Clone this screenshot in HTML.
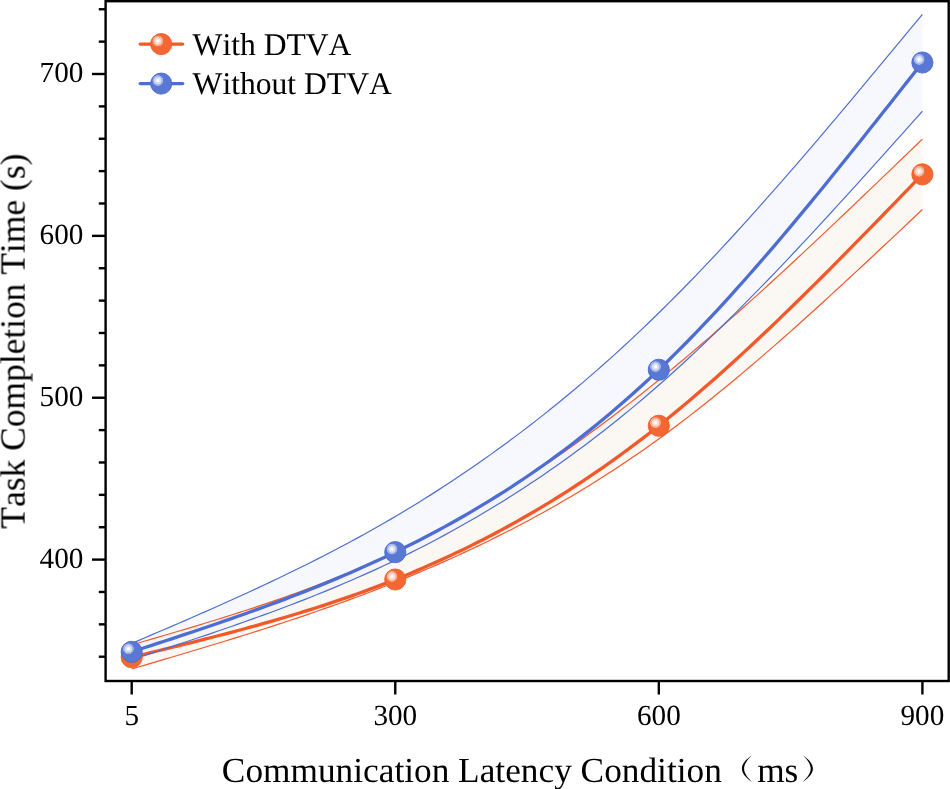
<!DOCTYPE html>
<html><head><meta charset="utf-8"><style>
html,body{margin:0;padding:0;background:#ffffff;}
svg{display:block;font-kerning:none;text-rendering:geometricPrecision;}
text{will-change:transform;}
</style></head><body>
<svg width="950" height="789" viewBox="0 0 950 789">
<defs><radialGradient id="hg" cx="0.5" cy="0.5" r="0.5"><stop offset="0" stop-color="#fff" stop-opacity="1"/><stop offset="0.2" stop-color="#fff" stop-opacity="1"/><stop offset="0.3" stop-color="#fff" stop-opacity="0.82"/><stop offset="0.6" stop-color="#fff" stop-opacity="0.72"/><stop offset="0.66" stop-color="#fff" stop-opacity="0.5"/><stop offset="0.9" stop-color="#fff" stop-opacity="0.42"/><stop offset="1" stop-color="#fff" stop-opacity="0"/></radialGradient></defs>
<path d="M131.70,644.90 L138.34,642.97 L144.99,641.04 L151.63,639.10 L158.28,637.16 L164.92,635.21 L171.57,633.25 L178.21,631.29 L184.86,629.31 L191.50,627.32 L198.15,625.32 L204.79,623.30 L211.43,621.26 L218.08,619.21 L224.72,617.13 L231.37,615.03 L238.01,612.91 L244.66,610.76 L251.30,608.59 L257.95,606.38 L264.59,604.15 L271.24,601.89 L277.88,599.59 L284.52,597.26 L291.17,594.89 L297.81,592.48 L304.46,590.04 L311.10,587.55 L317.75,585.02 L324.39,582.45 L331.04,579.83 L337.68,577.16 L344.33,574.45 L350.97,571.68 L357.61,568.86 L364.26,565.99 L370.90,563.06 L377.55,560.08 L384.19,557.04 L390.84,553.93 L397.48,550.77 L404.13,547.54 L410.77,544.25 L417.42,540.90 L424.06,537.49 L430.70,534.02 L437.35,530.48 L443.99,526.89 L450.64,523.23 L457.28,519.52 L463.93,515.74 L470.57,511.91 L477.22,508.01 L483.86,504.06 L490.51,500.05 L497.15,495.98 L503.79,491.86 L510.44,487.67 L517.08,483.43 L523.73,479.13 L530.37,474.78 L537.02,470.37 L543.66,465.90 L550.31,461.38 L556.95,456.80 L563.59,452.17 L570.24,447.48 L576.88,442.74 L583.53,437.95 L590.17,433.10 L596.82,428.20 L603.46,423.24 L610.11,418.23 L616.75,413.17 L623.40,408.06 L630.04,402.90 L636.68,397.68 L643.33,392.41 L649.97,387.10 L656.62,381.73 L663.26,376.31 L669.91,370.84 L676.55,365.33 L683.20,359.77 L689.84,354.16 L696.49,348.51 L703.13,342.81 L709.77,337.08 L716.42,331.30 L723.06,325.48 L729.71,319.63 L736.35,313.74 L743.00,307.81 L749.64,301.85 L756.29,295.86 L762.93,289.84 L769.58,283.78 L776.22,277.70 L782.86,271.59 L789.51,265.45 L796.15,259.29 L802.80,253.10 L809.44,246.89 L816.09,240.66 L822.73,234.41 L829.38,228.14 L836.02,221.85 L842.67,215.54 L849.31,209.22 L855.95,202.89 L862.60,196.55 L869.24,190.19 L875.89,183.82 L882.53,177.44 L889.18,171.06 L895.82,164.67 L902.47,158.27 L909.11,151.87 L915.76,145.47 L922.40,139.07 L922.40,209.53 L915.76,215.80 L909.11,222.06 L902.47,228.32 L895.82,234.57 L889.18,240.82 L882.53,247.05 L875.89,253.28 L869.24,259.49 L862.60,265.69 L855.95,271.87 L849.31,278.03 L842.67,284.18 L836.02,290.30 L829.38,296.39 L822.73,302.47 L816.09,308.51 L809.44,314.52 L802.80,320.50 L796.15,326.45 L789.51,332.37 L782.86,338.25 L776.22,344.08 L769.58,349.88 L762.93,355.64 L756.29,361.35 L749.64,367.02 L743.00,372.63 L736.35,378.20 L729.71,383.72 L723.06,389.18 L716.42,394.59 L709.77,399.94 L703.13,405.23 L696.49,410.46 L689.84,415.63 L683.20,420.73 L676.55,425.77 L669.91,430.74 L663.26,435.64 L656.62,440.46 L649.97,445.22 L643.33,449.90 L636.68,454.51 L630.04,459.06 L623.40,463.53 L616.75,467.93 L610.11,472.27 L603.46,476.54 L596.82,480.75 L590.17,484.89 L583.53,488.97 L576.88,492.99 L570.24,496.94 L563.59,500.83 L556.95,504.67 L550.31,508.45 L543.66,512.16 L537.02,515.83 L530.37,519.43 L523.73,522.98 L517.08,526.48 L510.44,529.92 L503.79,533.32 L497.15,536.66 L490.51,539.95 L483.86,543.19 L477.22,546.38 L470.57,549.53 L463.93,552.63 L457.28,555.69 L450.64,558.70 L443.99,561.66 L437.35,564.59 L430.70,567.47 L424.06,570.31 L417.42,573.11 L410.77,575.88 L404.13,578.60 L397.48,581.29 L390.84,583.95 L384.19,586.56 L377.55,589.15 L370.90,591.70 L364.26,594.22 L357.61,596.70 L350.97,599.16 L344.33,601.58 L337.68,603.98 L331.04,606.35 L324.39,608.69 L317.75,611.01 L311.10,613.30 L304.46,615.57 L297.81,617.82 L291.17,620.04 L284.52,622.24 L277.88,624.42 L271.24,626.58 L264.59,628.72 L257.95,630.84 L251.30,632.95 L244.66,635.04 L238.01,637.11 L231.37,639.17 L224.72,641.22 L218.08,643.25 L211.43,645.27 L204.79,647.28 L198.15,649.29 L191.50,651.28 L184.86,653.26 L178.21,655.24 L171.57,657.21 L164.92,659.18 L158.28,661.14 L151.63,663.10 L144.99,665.05 L138.34,667.00 L131.70,668.96 Z" fill="#fbf7f2" fill-opacity="1"/>
<path d="M131.70,643.45 L138.34,640.60 L144.99,637.76 L151.63,634.91 L158.28,632.06 L164.92,629.20 L171.57,626.33 L178.21,623.46 L184.86,620.58 L191.50,617.69 L198.15,614.78 L204.79,611.86 L211.43,608.93 L218.08,605.98 L224.72,603.01 L231.37,600.02 L238.01,597.02 L244.66,593.99 L251.30,590.93 L257.95,587.86 L264.59,584.76 L271.24,581.63 L277.88,578.47 L284.52,575.28 L291.17,572.06 L297.81,568.81 L304.46,565.53 L311.10,562.20 L317.75,558.85 L324.39,555.45 L331.04,552.02 L337.68,548.54 L344.33,545.02 L350.97,541.46 L357.61,537.86 L364.26,534.20 L370.90,530.50 L377.55,526.76 L384.19,522.96 L390.84,519.11 L397.48,515.20 L404.13,511.25 L410.77,507.23 L417.42,503.17 L424.06,499.05 L430.70,494.87 L437.35,490.63 L443.99,486.34 L450.64,481.98 L457.28,477.57 L463.93,473.10 L470.57,468.57 L477.22,463.98 L483.86,459.33 L490.51,454.62 L497.15,449.84 L503.79,445.01 L510.44,440.10 L517.08,435.14 L523.73,430.11 L530.37,425.01 L537.02,419.85 L543.66,414.63 L550.31,409.33 L556.95,403.97 L563.59,398.54 L570.24,393.04 L576.88,387.47 L583.53,381.84 L590.17,376.13 L596.82,370.35 L603.46,364.50 L610.11,358.58 L616.75,352.58 L623.40,346.51 L630.04,340.37 L636.68,334.15 L643.33,327.86 L649.97,321.49 L656.62,315.05 L663.26,308.53 L669.91,301.93 L676.55,295.26 L683.20,288.52 L689.84,281.71 L696.49,274.83 L703.13,267.88 L709.77,260.87 L716.42,253.80 L723.06,246.66 L729.71,239.47 L736.35,232.23 L743.00,224.92 L749.64,217.57 L756.29,210.17 L762.93,202.71 L769.58,195.21 L776.22,187.67 L782.86,180.08 L789.51,172.45 L796.15,164.79 L802.80,157.08 L809.44,149.34 L816.09,141.57 L822.73,133.77 L829.38,125.94 L836.02,118.08 L842.67,110.19 L849.31,102.29 L855.95,94.36 L862.60,86.41 L869.24,78.44 L875.89,70.46 L882.53,62.47 L889.18,54.46 L895.82,46.44 L902.47,38.42 L909.11,30.39 L915.76,22.36 L922.40,14.32 L922.40,111.23 L915.76,118.67 L909.11,126.11 L902.47,133.54 L895.82,140.97 L889.18,148.39 L882.53,155.80 L875.89,163.20 L869.24,170.58 L862.60,177.95 L855.95,185.30 L849.31,192.63 L842.67,199.93 L836.02,207.21 L829.38,214.47 L822.73,221.69 L816.09,228.89 L809.44,236.05 L802.80,243.18 L796.15,250.27 L789.51,257.32 L782.86,264.33 L776.22,271.30 L769.58,278.22 L762.93,285.10 L756.29,291.93 L749.64,298.70 L743.00,305.42 L736.35,312.09 L729.71,318.70 L723.06,325.25 L716.42,331.74 L709.77,338.17 L703.13,344.53 L696.49,350.82 L689.84,357.04 L683.20,363.20 L676.55,369.27 L669.91,375.28 L663.26,381.20 L656.62,387.05 L649.97,392.81 L643.33,398.50 L636.68,404.10 L630.04,409.63 L623.40,415.07 L616.75,420.44 L610.11,425.74 L603.46,430.96 L596.82,436.10 L590.17,441.17 L583.53,446.17 L576.88,451.09 L570.24,455.94 L563.59,460.72 L556.95,465.43 L550.31,470.07 L543.66,474.64 L537.02,479.14 L530.37,483.57 L523.73,487.94 L517.08,492.24 L510.44,496.48 L503.79,500.65 L497.15,504.75 L490.51,508.80 L483.86,512.78 L477.22,516.70 L470.57,520.56 L463.93,524.35 L457.28,528.09 L450.64,531.77 L443.99,535.39 L437.35,538.96 L430.70,542.47 L424.06,545.92 L417.42,549.31 L410.77,552.66 L404.13,555.94 L397.48,559.18 L390.84,562.36 L384.19,565.50 L377.55,568.58 L370.90,571.61 L364.26,574.60 L357.61,577.54 L350.97,580.44 L344.33,583.29 L337.68,586.10 L331.04,588.88 L324.39,591.61 L317.75,594.30 L311.10,596.96 L304.46,599.58 L297.81,602.17 L291.17,604.72 L284.52,607.25 L277.88,609.74 L271.24,612.21 L264.59,614.64 L257.95,617.05 L251.30,619.44 L244.66,621.80 L238.01,624.14 L231.37,626.46 L224.72,628.76 L218.08,631.05 L211.43,633.31 L204.79,635.56 L198.15,637.79 L191.50,640.01 L184.86,642.22 L178.21,644.42 L171.57,646.61 L164.92,648.80 L158.28,650.97 L151.63,653.14 L144.99,655.31 L138.34,657.47 L131.70,659.63 Z" fill="#edf2fb" fill-opacity="0.5"/>
<path d="M131.70,644.90 L138.34,642.97 L144.99,641.04 L151.63,639.10 L158.28,637.16 L164.92,635.21 L171.57,633.25 L178.21,631.29 L184.86,629.31 L191.50,627.32 L198.15,625.32 L204.79,623.30 L211.43,621.26 L218.08,619.21 L224.72,617.13 L231.37,615.03 L238.01,612.91 L244.66,610.76 L251.30,608.59 L257.95,606.38 L264.59,604.15 L271.24,601.89 L277.88,599.59 L284.52,597.26 L291.17,594.89 L297.81,592.48 L304.46,590.04 L311.10,587.55 L317.75,585.02 L324.39,582.45 L331.04,579.83 L337.68,577.16 L344.33,574.45 L350.97,571.68 L357.61,568.86 L364.26,565.99 L370.90,563.06 L377.55,560.08 L384.19,557.04 L390.84,553.93 L397.48,550.77 L404.13,547.54 L410.77,544.25 L417.42,540.90 L424.06,537.49 L430.70,534.02 L437.35,530.48 L443.99,526.89 L450.64,523.23 L457.28,519.52 L463.93,515.74 L470.57,511.91 L477.22,508.01 L483.86,504.06 L490.51,500.05 L497.15,495.98 L503.79,491.86 L510.44,487.67 L517.08,483.43 L523.73,479.13 L530.37,474.78 L537.02,470.37 L543.66,465.90 L550.31,461.38 L556.95,456.80 L563.59,452.17 L570.24,447.48 L576.88,442.74 L583.53,437.95 L590.17,433.10 L596.82,428.20 L603.46,423.24 L610.11,418.23 L616.75,413.17 L623.40,408.06 L630.04,402.90 L636.68,397.68 L643.33,392.41 L649.97,387.10 L656.62,381.73 L663.26,376.31 L669.91,370.84 L676.55,365.33 L683.20,359.77 L689.84,354.16 L696.49,348.51 L703.13,342.81 L709.77,337.08 L716.42,331.30 L723.06,325.48 L729.71,319.63 L736.35,313.74 L743.00,307.81 L749.64,301.85 L756.29,295.86 L762.93,289.84 L769.58,283.78 L776.22,277.70 L782.86,271.59 L789.51,265.45 L796.15,259.29 L802.80,253.10 L809.44,246.89 L816.09,240.66 L822.73,234.41 L829.38,228.14 L836.02,221.85 L842.67,215.54 L849.31,209.22 L855.95,202.89 L862.60,196.55 L869.24,190.19 L875.89,183.82 L882.53,177.44 L889.18,171.06 L895.82,164.67 L902.47,158.27 L909.11,151.87 L915.76,145.47 L922.40,139.07" fill="none" stroke="#f2592a" stroke-width="1.2"/>
<path d="M131.70,668.96 L138.34,667.00 L144.99,665.05 L151.63,663.10 L158.28,661.14 L164.92,659.18 L171.57,657.21 L178.21,655.24 L184.86,653.26 L191.50,651.28 L198.15,649.29 L204.79,647.28 L211.43,645.27 L218.08,643.25 L224.72,641.22 L231.37,639.17 L238.01,637.11 L244.66,635.04 L251.30,632.95 L257.95,630.84 L264.59,628.72 L271.24,626.58 L277.88,624.42 L284.52,622.24 L291.17,620.04 L297.81,617.82 L304.46,615.57 L311.10,613.30 L317.75,611.01 L324.39,608.69 L331.04,606.35 L337.68,603.98 L344.33,601.58 L350.97,599.16 L357.61,596.70 L364.26,594.22 L370.90,591.70 L377.55,589.15 L384.19,586.56 L390.84,583.95 L397.48,581.29 L404.13,578.60 L410.77,575.88 L417.42,573.11 L424.06,570.31 L430.70,567.47 L437.35,564.59 L443.99,561.66 L450.64,558.70 L457.28,555.69 L463.93,552.63 L470.57,549.53 L477.22,546.38 L483.86,543.19 L490.51,539.95 L497.15,536.66 L503.79,533.32 L510.44,529.92 L517.08,526.48 L523.73,522.98 L530.37,519.43 L537.02,515.83 L543.66,512.16 L550.31,508.45 L556.95,504.67 L563.59,500.83 L570.24,496.94 L576.88,492.99 L583.53,488.97 L590.17,484.89 L596.82,480.75 L603.46,476.54 L610.11,472.27 L616.75,467.93 L623.40,463.53 L630.04,459.06 L636.68,454.51 L643.33,449.90 L649.97,445.22 L656.62,440.46 L663.26,435.64 L669.91,430.74 L676.55,425.77 L683.20,420.73 L689.84,415.63 L696.49,410.46 L703.13,405.23 L709.77,399.94 L716.42,394.59 L723.06,389.18 L729.71,383.72 L736.35,378.20 L743.00,372.63 L749.64,367.02 L756.29,361.35 L762.93,355.64 L769.58,349.88 L776.22,344.08 L782.86,338.25 L789.51,332.37 L796.15,326.45 L802.80,320.50 L809.44,314.52 L816.09,308.51 L822.73,302.47 L829.38,296.39 L836.02,290.30 L842.67,284.18 L849.31,278.03 L855.95,271.87 L862.60,265.69 L869.24,259.49 L875.89,253.28 L882.53,247.05 L889.18,240.82 L895.82,234.57 L902.47,228.32 L909.11,222.06 L915.76,215.80 L922.40,209.53" fill="none" stroke="#f2592a" stroke-width="1.2"/>
<path d="M131.70,657.21 L138.34,655.59 L144.99,653.98 L151.63,652.37 L158.28,650.75 L164.92,649.12 L171.57,647.49 L178.21,645.85 L184.86,644.20 L191.50,642.54 L198.15,640.87 L204.79,639.19 L211.43,637.49 L218.08,635.77 L224.72,634.04 L231.37,632.29 L238.01,630.52 L244.66,628.73 L251.30,626.91 L257.95,625.08 L264.59,623.21 L271.24,621.32 L277.88,619.41 L284.52,617.46 L291.17,615.48 L297.81,613.47 L304.46,611.43 L311.10,609.35 L317.75,607.24 L324.39,605.09 L331.04,602.90 L337.68,600.68 L344.33,598.41 L350.97,596.10 L357.61,593.74 L364.26,591.34 L370.90,588.90 L377.55,586.40 L384.19,583.86 L390.84,581.27 L397.48,578.62 L404.13,575.92 L410.77,573.17 L417.42,570.37 L424.06,567.51 L430.70,564.59 L437.35,561.62 L443.99,558.59 L450.64,555.51 L457.28,552.36 L463.93,549.16 L470.57,545.89 L477.22,542.57 L483.86,539.19 L490.51,535.74 L497.15,532.23 L503.79,528.66 L510.44,525.02 L517.08,521.32 L523.73,517.56 L530.37,513.73 L537.02,509.83 L543.66,505.86 L550.31,501.83 L556.95,497.73 L563.59,493.56 L570.24,489.31 L576.88,485.00 L583.53,480.62 L590.17,476.16 L596.82,471.64 L603.46,467.03 L610.11,462.36 L616.75,457.61 L623.40,452.78 L630.04,447.88 L636.68,442.90 L643.33,437.84 L649.97,432.71 L656.62,427.49 L663.26,422.20 L669.91,416.83 L676.55,411.38 L683.20,405.85 L689.84,400.26 L696.49,394.59 L703.13,388.86 L709.77,383.05 L716.42,377.19 L723.06,371.26 L729.71,365.27 L736.35,359.22 L743.00,353.12 L749.64,346.96 L756.29,340.75 L762.93,334.49 L769.58,328.18 L776.22,321.83 L782.86,315.43 L789.51,308.98 L796.15,302.50 L802.80,295.98 L809.44,289.42 L816.09,282.83 L822.73,276.21 L829.38,269.55 L836.02,262.87 L842.67,256.16 L849.31,249.43 L855.95,242.68 L862.60,235.90 L869.24,229.11 L875.89,222.30 L882.53,215.48 L889.18,208.64 L895.82,201.80 L902.47,194.95 L909.11,188.09 L915.76,181.22 L922.40,174.36" fill="none" stroke="#f2592a" stroke-width="3.3" stroke-linejoin="round"/>
<path d="M131.70,643.45 L138.34,640.60 L144.99,637.76 L151.63,634.91 L158.28,632.06 L164.92,629.20 L171.57,626.33 L178.21,623.46 L184.86,620.58 L191.50,617.69 L198.15,614.78 L204.79,611.86 L211.43,608.93 L218.08,605.98 L224.72,603.01 L231.37,600.02 L238.01,597.02 L244.66,593.99 L251.30,590.93 L257.95,587.86 L264.59,584.76 L271.24,581.63 L277.88,578.47 L284.52,575.28 L291.17,572.06 L297.81,568.81 L304.46,565.53 L311.10,562.20 L317.75,558.85 L324.39,555.45 L331.04,552.02 L337.68,548.54 L344.33,545.02 L350.97,541.46 L357.61,537.86 L364.26,534.20 L370.90,530.50 L377.55,526.76 L384.19,522.96 L390.84,519.11 L397.48,515.20 L404.13,511.25 L410.77,507.23 L417.42,503.17 L424.06,499.05 L430.70,494.87 L437.35,490.63 L443.99,486.34 L450.64,481.98 L457.28,477.57 L463.93,473.10 L470.57,468.57 L477.22,463.98 L483.86,459.33 L490.51,454.62 L497.15,449.84 L503.79,445.01 L510.44,440.10 L517.08,435.14 L523.73,430.11 L530.37,425.01 L537.02,419.85 L543.66,414.63 L550.31,409.33 L556.95,403.97 L563.59,398.54 L570.24,393.04 L576.88,387.47 L583.53,381.84 L590.17,376.13 L596.82,370.35 L603.46,364.50 L610.11,358.58 L616.75,352.58 L623.40,346.51 L630.04,340.37 L636.68,334.15 L643.33,327.86 L649.97,321.49 L656.62,315.05 L663.26,308.53 L669.91,301.93 L676.55,295.26 L683.20,288.52 L689.84,281.71 L696.49,274.83 L703.13,267.88 L709.77,260.87 L716.42,253.80 L723.06,246.66 L729.71,239.47 L736.35,232.23 L743.00,224.92 L749.64,217.57 L756.29,210.17 L762.93,202.71 L769.58,195.21 L776.22,187.67 L782.86,180.08 L789.51,172.45 L796.15,164.79 L802.80,157.08 L809.44,149.34 L816.09,141.57 L822.73,133.77 L829.38,125.94 L836.02,118.08 L842.67,110.19 L849.31,102.29 L855.95,94.36 L862.60,86.41 L869.24,78.44 L875.89,70.46 L882.53,62.47 L889.18,54.46 L895.82,46.44 L902.47,38.42 L909.11,30.39 L915.76,22.36 L922.40,14.32" fill="none" stroke="#4d6dd3" stroke-width="1.2"/>
<path d="M131.70,659.63 L138.34,657.47 L144.99,655.31 L151.63,653.14 L158.28,650.97 L164.92,648.80 L171.57,646.61 L178.21,644.42 L184.86,642.22 L191.50,640.01 L198.15,637.79 L204.79,635.56 L211.43,633.31 L218.08,631.05 L224.72,628.76 L231.37,626.46 L238.01,624.14 L244.66,621.80 L251.30,619.44 L257.95,617.05 L264.59,614.64 L271.24,612.21 L277.88,609.74 L284.52,607.25 L291.17,604.72 L297.81,602.17 L304.46,599.58 L311.10,596.96 L317.75,594.30 L324.39,591.61 L331.04,588.88 L337.68,586.10 L344.33,583.29 L350.97,580.44 L357.61,577.54 L364.26,574.60 L370.90,571.61 L377.55,568.58 L384.19,565.50 L390.84,562.36 L397.48,559.18 L404.13,555.94 L410.77,552.66 L417.42,549.31 L424.06,545.92 L430.70,542.47 L437.35,538.96 L443.99,535.39 L450.64,531.77 L457.28,528.09 L463.93,524.35 L470.57,520.56 L477.22,516.70 L483.86,512.78 L490.51,508.80 L497.15,504.75 L503.79,500.65 L510.44,496.48 L517.08,492.24 L523.73,487.94 L530.37,483.57 L537.02,479.14 L543.66,474.64 L550.31,470.07 L556.95,465.43 L563.59,460.72 L570.24,455.94 L576.88,451.09 L583.53,446.17 L590.17,441.17 L596.82,436.10 L603.46,430.96 L610.11,425.74 L616.75,420.44 L623.40,415.07 L630.04,409.63 L636.68,404.10 L643.33,398.50 L649.97,392.81 L656.62,387.05 L663.26,381.20 L669.91,375.28 L676.55,369.27 L683.20,363.20 L689.84,357.04 L696.49,350.82 L703.13,344.53 L709.77,338.17 L716.42,331.74 L723.06,325.25 L729.71,318.70 L736.35,312.09 L743.00,305.42 L749.64,298.70 L756.29,291.93 L762.93,285.10 L769.58,278.22 L776.22,271.30 L782.86,264.33 L789.51,257.32 L796.15,250.27 L802.80,243.18 L809.44,236.05 L816.09,228.89 L822.73,221.69 L829.38,214.47 L836.02,207.21 L842.67,199.93 L849.31,192.63 L855.95,185.30 L862.60,177.95 L869.24,170.58 L875.89,163.20 L882.53,155.80 L889.18,148.39 L895.82,140.97 L902.47,133.54 L909.11,126.11 L915.76,118.67 L922.40,111.23" fill="none" stroke="#4d6dd3" stroke-width="1.2"/>
<path d="M131.70,651.86 L138.34,649.70 L144.99,647.53 L151.63,645.36 L158.28,643.18 L164.92,641.00 L171.57,638.81 L178.21,636.62 L184.86,634.41 L191.50,632.20 L198.15,629.97 L204.79,627.73 L211.43,625.48 L218.08,623.20 L224.72,620.92 L231.37,618.61 L238.01,616.28 L244.66,613.94 L251.30,611.57 L257.95,609.17 L264.59,606.76 L271.24,604.31 L277.88,601.84 L284.52,599.34 L291.17,596.80 L297.81,594.24 L304.46,591.64 L311.10,589.01 L317.75,586.35 L324.39,583.64 L331.04,580.90 L337.68,578.12 L344.33,575.30 L350.97,572.43 L357.61,569.52 L364.26,566.57 L370.90,563.57 L377.55,560.52 L384.19,557.43 L390.84,554.28 L397.48,551.08 L404.13,547.83 L410.77,544.53 L417.42,541.17 L424.06,537.75 L430.70,534.27 L437.35,530.74 L443.99,527.14 L450.64,523.49 L457.28,519.76 L463.93,515.98 L470.57,512.12 L477.22,508.20 L483.86,504.21 L490.51,500.15 L497.15,496.02 L503.79,491.82 L510.44,487.54 L517.08,483.18 L523.73,478.75 L530.37,474.24 L537.02,469.65 L543.66,464.98 L550.31,460.22 L556.95,455.39 L563.59,450.46 L570.24,445.45 L576.88,440.36 L583.53,435.17 L590.17,429.89 L596.82,424.52 L603.46,419.06 L610.11,413.50 L616.75,407.85 L623.40,402.10 L630.04,396.25 L636.68,390.30 L643.33,384.25 L649.97,378.10 L656.62,371.84 L663.26,365.48 L669.91,359.01 L676.55,352.44 L683.20,345.77 L689.84,339.01 L696.49,332.16 L703.13,325.21 L709.77,318.17 L716.42,311.05 L723.06,303.85 L729.71,296.57 L736.35,289.20 L743.00,281.77 L749.64,274.26 L756.29,266.68 L762.93,259.04 L769.58,251.33 L776.22,243.56 L782.86,235.73 L789.51,227.85 L796.15,219.91 L802.80,211.92 L809.44,203.89 L816.09,195.81 L822.73,187.68 L829.38,179.52 L836.02,171.32 L842.67,163.08 L849.31,154.81 L855.95,146.51 L862.60,138.19 L869.24,129.84 L875.89,121.47 L882.53,113.08 L889.18,104.68 L895.82,96.26 L902.47,87.83 L909.11,79.39 L915.76,70.95 L922.40,62.51" fill="none" stroke="#4d6dd3" stroke-width="3.3" stroke-linejoin="round"/>
<circle cx="131.70" cy="657.21" r="10.60" fill="#f36732" stroke="#f25522" stroke-width="0.8"/><circle cx="128.40" cy="654.11" r="5.7" fill="url(#hg)"/>
<circle cx="395.27" cy="579.51" r="10.60" fill="#f36732" stroke="#f25522" stroke-width="0.8"/><circle cx="391.97" cy="576.41" r="5.7" fill="url(#hg)"/>
<circle cx="658.83" cy="425.74" r="10.60" fill="#f36732" stroke="#f25522" stroke-width="0.8"/><circle cx="655.53" cy="422.64" r="5.7" fill="url(#hg)"/>
<circle cx="922.40" cy="174.36" r="10.60" fill="#f36732" stroke="#f25522" stroke-width="0.8"/><circle cx="919.10" cy="171.26" r="5.7" fill="url(#hg)"/>
<circle cx="131.70" cy="651.86" r="10.60" fill="#5878d4" stroke="#4666cf" stroke-width="0.8"/><circle cx="128.40" cy="648.76" r="5.7" fill="url(#hg)"/>
<circle cx="395.27" cy="552.15" r="10.60" fill="#5878d4" stroke="#4666cf" stroke-width="0.8"/><circle cx="391.97" cy="549.05" r="5.7" fill="url(#hg)"/>
<circle cx="658.83" cy="369.73" r="10.60" fill="#5878d4" stroke="#4666cf" stroke-width="0.8"/><circle cx="655.53" cy="366.63" r="5.7" fill="url(#hg)"/>
<circle cx="922.40" cy="62.51" r="10.60" fill="#5878d4" stroke="#4666cf" stroke-width="0.8"/><circle cx="919.10" cy="59.41" r="5.7" fill="url(#hg)"/>
<rect x="105.6" y="1.2" width="843.1" height="679.8" fill="none" stroke="#000" stroke-width="2.4"/>
<line x1="98.8" y1="656.72" x2="105.6" y2="656.72" stroke="#000" stroke-width="2.4"/>
<line x1="98.8" y1="624.35" x2="105.6" y2="624.35" stroke="#000" stroke-width="2.4"/>
<line x1="98.8" y1="591.97" x2="105.6" y2="591.97" stroke="#000" stroke-width="2.4"/>
<line x1="92" y1="559.60" x2="105.6" y2="559.60" stroke="#000" stroke-width="2.4"/>
<line x1="98.8" y1="527.23" x2="105.6" y2="527.23" stroke="#000" stroke-width="2.4"/>
<line x1="98.8" y1="494.85" x2="105.6" y2="494.85" stroke="#000" stroke-width="2.4"/>
<line x1="98.8" y1="462.48" x2="105.6" y2="462.48" stroke="#000" stroke-width="2.4"/>
<line x1="98.8" y1="430.11" x2="105.6" y2="430.11" stroke="#000" stroke-width="2.4"/>
<line x1="92" y1="397.73" x2="105.6" y2="397.73" stroke="#000" stroke-width="2.4"/>
<line x1="98.8" y1="365.36" x2="105.6" y2="365.36" stroke="#000" stroke-width="2.4"/>
<line x1="98.8" y1="332.99" x2="105.6" y2="332.99" stroke="#000" stroke-width="2.4"/>
<line x1="98.8" y1="300.61" x2="105.6" y2="300.61" stroke="#000" stroke-width="2.4"/>
<line x1="98.8" y1="268.24" x2="105.6" y2="268.24" stroke="#000" stroke-width="2.4"/>
<line x1="92" y1="235.87" x2="105.6" y2="235.87" stroke="#000" stroke-width="2.4"/>
<line x1="98.8" y1="203.49" x2="105.6" y2="203.49" stroke="#000" stroke-width="2.4"/>
<line x1="98.8" y1="171.12" x2="105.6" y2="171.12" stroke="#000" stroke-width="2.4"/>
<line x1="98.8" y1="138.75" x2="105.6" y2="138.75" stroke="#000" stroke-width="2.4"/>
<line x1="98.8" y1="106.37" x2="105.6" y2="106.37" stroke="#000" stroke-width="2.4"/>
<line x1="92" y1="74.00" x2="105.6" y2="74.00" stroke="#000" stroke-width="2.4"/>
<line x1="98.8" y1="41.63" x2="105.6" y2="41.63" stroke="#000" stroke-width="2.4"/>
<line x1="98.8" y1="9.25" x2="105.6" y2="9.25" stroke="#000" stroke-width="2.4"/>
<line x1="131.70" y1="681.0" x2="131.70" y2="694.5" stroke="#000" stroke-width="2.4"/>
<line x1="395.27" y1="681.0" x2="395.27" y2="694.5" stroke="#000" stroke-width="2.4"/>
<line x1="658.83" y1="681.0" x2="658.83" y2="694.5" stroke="#000" stroke-width="2.4"/>
<line x1="922.40" y1="681.0" x2="922.40" y2="694.5" stroke="#000" stroke-width="2.4"/>
<text x="83.4" y="82.20" font-size="29.2" text-anchor="end" font-family="Liberation Serif" fill="#000">700</text>
<text x="83.4" y="244.07" font-size="29.2" text-anchor="end" font-family="Liberation Serif" fill="#000">600</text>
<text x="83.4" y="405.93" font-size="29.2" text-anchor="end" font-family="Liberation Serif" fill="#000">500</text>
<text x="83.4" y="567.80" font-size="29.2" text-anchor="end" font-family="Liberation Serif" fill="#000">400</text>
<text x="131.70" y="725.1" font-size="29.2" text-anchor="middle" font-family="Liberation Serif" fill="#000">5</text>
<text x="395.27" y="725.1" font-size="29.2" text-anchor="middle" font-family="Liberation Serif" fill="#000">300</text>
<text x="658.83" y="725.1" font-size="29.2" text-anchor="middle" font-family="Liberation Serif" fill="#000">600</text>
<text x="922.40" y="725.1" font-size="29.2" text-anchor="middle" font-family="Liberation Serif" fill="#000">900</text>
<text x="221.85" y="781.5" font-size="35.3" font-family="Liberation Serif" fill="#000">Communication Latency Condition</text>
<text x="757.15" y="781.5" font-size="35.3" font-family="Liberation Serif" fill="#000">ms</text>
<path d="M752.0,755.2 C745.2,759.8 741.9,764.2 741.9,768.6 C741.9,773.0 745.2,777.4 752.0,782.0 C746.9,777.0 744.1,773.0 744.1,768.6 C744.1,764.2 746.9,760.2 752.0,755.2 Z" fill="#000"/>
<path d="M802.8,755.2 C809.6,759.8 812.9,764.2 812.9,768.6 C812.9,773.0 809.6,777.4 802.8,782.0 C807.9,777.0 810.7,773.0 810.7,768.6 C810.7,764.2 807.9,760.2 802.8,755.2 Z" fill="#000"/>
<text transform="translate(24.6,528.6) rotate(-90)" x="0" y="0" font-size="35.45" font-family="Liberation Serif" fill="#000">Task Completion Time (s)</text>
<line x1="140.2" y1="44.1" x2="182.7" y2="44.1" stroke="#f2592a" stroke-width="3.3" stroke-linecap="round"/>
<circle cx="161.20" cy="44.10" r="10.60" fill="#f36732" stroke="#f25522" stroke-width="0.8"/><circle cx="157.90" cy="41.00" r="5.7" fill="url(#hg)"/>
<text x="192.6" y="54.60" font-size="31.6" font-family="Liberation Serif" fill="#000">With DTVA</text>
<line x1="140.2" y1="83.6" x2="182.7" y2="83.6" stroke="#4d6dd3" stroke-width="3.3" stroke-linecap="round"/>
<circle cx="161.20" cy="83.60" r="10.60" fill="#5878d4" stroke="#4666cf" stroke-width="0.8"/><circle cx="157.90" cy="80.50" r="5.7" fill="url(#hg)"/>
<text x="192.6" y="94.10" font-size="31.6" font-family="Liberation Serif" fill="#000">Without DTVA</text>
</svg></body></html>
